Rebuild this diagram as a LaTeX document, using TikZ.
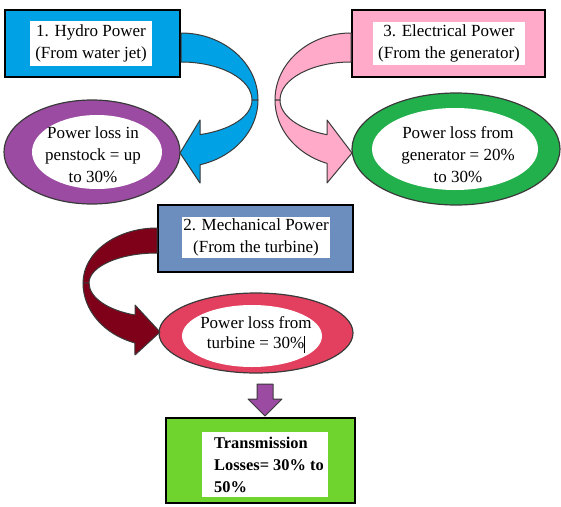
\documentclass[tikz,border=0pt]{standalone}
\usepackage{fontspec}
\setmainfont{Liberation Serif}
\usetikzlibrary{shapes.geometric,calc}

\definecolor{hydroblue}{HTML}{00A2E5}
\definecolor{lossviolet}{HTML}{9C4BA3}
\definecolor{elecpink}{HTML}{FFAAC8}
\definecolor{gengreen}{HTML}{22B04C}
\definecolor{mechblue}{HTML}{6C8EBF}
\definecolor{turbred}{HTML}{7E0019}
\definecolor{lossred}{HTML}{E2405E}
\definecolor{translime}{HTML}{70D42E}
\definecolor{edgegray}{HTML}{3A3A3A}

\begin{document}
\begin{tikzpicture}[x=1pt,y=-1pt,
 box/.style={draw=black,line width=2pt,inner sep=0pt},
 txt/.style={fill=white,inner sep=0pt,align=center,font=\fontsize{17}{22}\selectfont},
 ring/.style={ellipse,draw=edgegray,line width=1.2pt,inner sep=0pt},
 hole/.style={ellipse,fill=white,inner sep=0pt},
 losstxt/.style={align=center,inner sep=0pt,font=\fontsize{17}{22}\selectfont},
 band/.style={draw=edgegray,line width=1pt,line join=round}]
 \useasboundingbox (0,0) rectangle (561,506);

 % 1. hydro power
 \node[box,fill=hydroblue,minimum width=175pt,minimum height=67pt] (hydro) at (92.5,43.5) {};
 \node[txt,minimum width=122pt,minimum height=45pt] (hydrotxt) at (91,43.5) {1. Hydro Power\\(From water jet)};
 % 3. electrical power
 \node[box,fill=elecpink,minimum width=193pt,minimum height=67pt] (elec) at (448.5,43.5) {};
 \node[txt,minimum width=152pt,minimum height=43pt] (electxt) at (449,43.5) {3. Electrical Power\\(From the generator)};
 % 2. mechanical power
 \node[box,fill=mechblue,minimum width=195pt,minimum height=67pt] (mech) at (255.5,238.5) {};
 \node[txt,minimum width=148pt,minimum height=41pt] (mechtxt) at (256,237.5) {2. Mechanical Power\\(From the turbine)};
 % transmission
 \node[box,fill=translime,minimum width=189pt,minimum height=85pt] (trans) at (260.5,460.5) {};
 \node[fill=white,inner sep=0pt,minimum width=126pt,minimum height=65pt] (transhole) at (265,464.5) {};
 \node[losstxt,align=left,anchor=west,font=\fontsize{16.4}{22}\selectfont\bfseries] (transtxt) at (214,465) {Transmission\\Losses= 30\% to\\50\%};

 % losses
 \node[ring,fill=lossviolet,minimum width=176pt,minimum height=104pt] (penloss) at (92,152) {};
 \node[hole,minimum width=130pt,minimum height=74pt] (penhole) at (97,152) {};
 \node[losstxt] (pentxt) at (93,155) {Power loss in\\penstock = up\\to 30\%};
 \node[ring,fill=gengreen,minimum width=208pt,minimum height=112pt] (genloss) at (456,149) {};
 \node[hole,minimum width=166pt,minimum height=82pt] (genhole) at (455,149) {};
 \node[losstxt] (gentxt) at (458,155) {Power loss from\\generator = 20\%\\to 30\%};
 \node[ring,fill=lossred,minimum width=194pt,minimum height=80pt] (turbloss) at (256,333) {};
 \node[hole,minimum width=140pt,minimum height=62pt] (turbhole) at (252,336) {};
 \node[losstxt,font=\fontsize{17}{20}\selectfont] (turbtxt) at (256,335) {Power loss from\\turbine = 30\%\rule[-4pt]{0.7pt}{17pt}};

 % blue arrow
 \draw[band,fill=hydroblue] (181,33) arc[start angle=-90,end angle=0,x radius=77,y radius=67]
   -- (252,100) arc[start angle=0,end angle=-90,x radius=71,y radius=38] -- cycle;
 \draw[band,fill=hydroblue] (258,100) arc[start angle=0,end angle=75.1,x radius=78,y radius=67]
   -- (200,183) -- (180,153) -- (200,120) -- (200,134.6)
   arc[start angle=73.9,end angle=0,x radius=72,y radius=36] -- cycle;
 % pink arrow
 \draw[band,fill=elecpink] (351,33) arc[start angle=-90,end angle=-180,x radius=76,y radius=67]
   -- (280,100) arc[start angle=180,end angle=270,x radius=71,y radius=38] -- cycle;
 \draw[band,fill=elecpink] (275,100) arc[start angle=180,end angle=108.9,x radius=77,y radius=67]
   -- (327,183) -- (352,153) -- (327,120) -- (327,134.7)
   arc[start angle=110.3,end angle=180,x radius=72,y radius=37] -- cycle;
 % dark red arrow
 \draw[band,fill=turbred] (157,228) arc[start angle=-90,end angle=-180,x radius=74,y radius=55]
   -- (89,283) arc[start angle=180,end angle=270,x radius=68,y radius=30] -- cycle;
 \draw[band,fill=turbred] (83,283) arc[start angle=180,end angle=107.9,x radius=75,y radius=63]
   -- (135,355) -- (160,332) -- (135,305) -- (135,315)
   arc[start angle=109.5,end angle=180,x radius=69,y radius=34] -- cycle;

 % down arrow
 \draw[band,fill=lossviolet] ($(trans.north)+(-3.5,-33)$) -- ++(16,0) -- ++(0,15) -- ++(9,0)
   -- ++(-17,17) -- ++(-17,-17) -- ++(9,0) -- cycle;
\end{tikzpicture}
\end{document}
